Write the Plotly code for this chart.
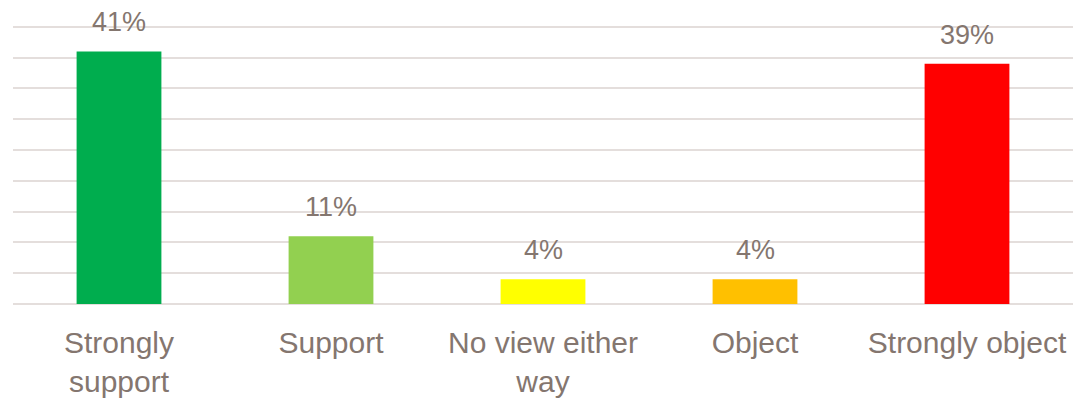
import plotly.graph_objects as go

categories = ["Strongly<br>support", "Support", "No view either<br>way", "Object", "Strongly object"]
values = [41, 11, 4, 4, 39]
value_labels = ["41%", "11%", "4%", "4%", "39%"]
bar_colors = ["#00AD4E", "#92D050", "#FFFF00", "#FFC000", "#FF0000"]

text_color = "#84766F"
grid_color = "#E4DEDC"
font_family = "Liberation Sans, Arial, sans-serif"

fig = go.Figure(
    go.Bar(
        x=categories,
        y=values,
        marker=dict(color=bar_colors, line=dict(width=0)),
        hoverinfo="skip",
    )
)

# value labels above each bar
for cat, val, lab in zip(categories, values, value_labels):
    fig.add_annotation(
        x=cat, y=val, text=lab, showarrow=False,
        yanchor="bottom", yshift=12,
        font=dict(family=font_family, size=27, color=text_color),
    )

fig.update_layout(
    width=1074, height=398,
    margin=dict(l=13, r=1, t=24, b=94),
    plot_bgcolor="white", paper_bgcolor="white",
    bargap=0.6,
    showlegend=False,
    font=dict(family=font_family, color=text_color),
)
fig.update_xaxes(
    showgrid=False, showline=False, zeroline=False, ticks="",
    tickfont=dict(family=font_family, size=30, color=text_color),
    ticklabelstandoff=18,
)
fig.update_yaxes(
    range=[0, 45.45], dtick=5, showticklabels=False,
    showgrid=True, gridcolor=grid_color, gridwidth=2,
    zeroline=True, zerolinecolor=grid_color, zerolinewidth=2,
    showline=False, ticks="",
)

fig.write_html("out.html")
